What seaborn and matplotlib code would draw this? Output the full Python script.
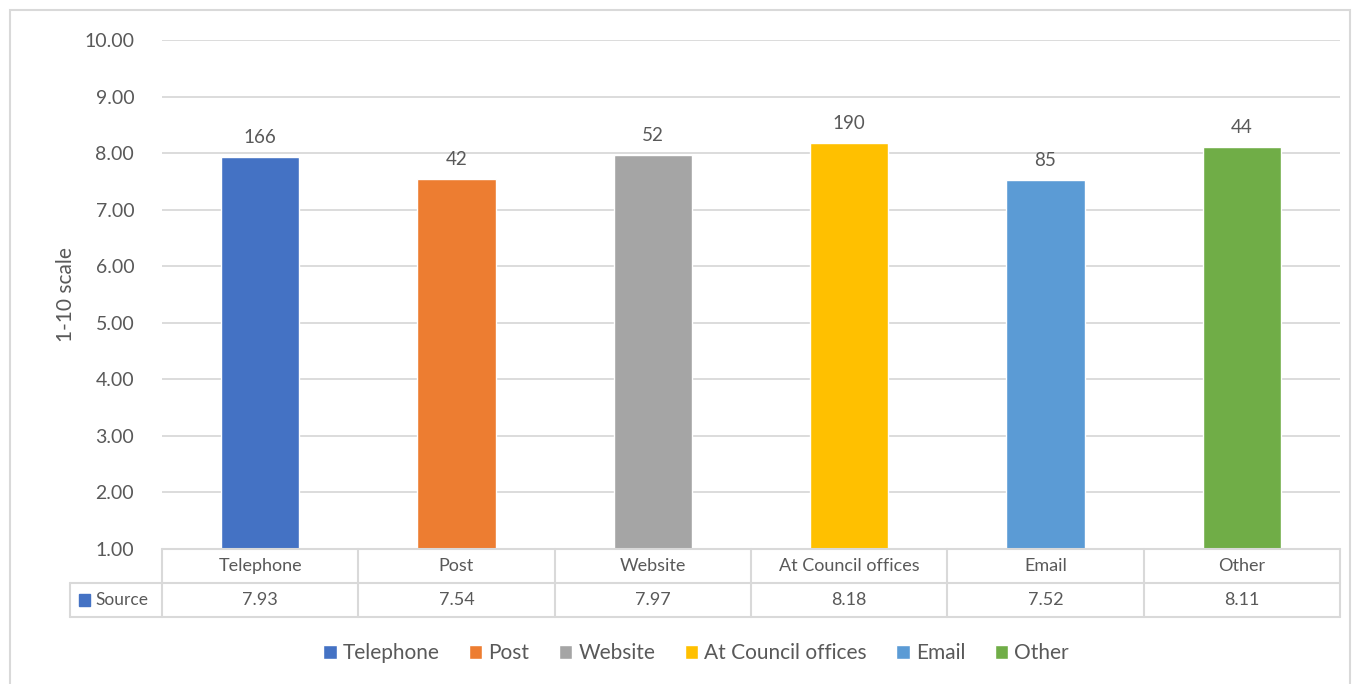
import matplotlib.pyplot as plt
import matplotlib.transforms as mtransforms
from matplotlib.patches import Rectangle
import seaborn as sns
import pandas as pd

# chart data
channels = ['Telephone', 'Post', 'Website', 'At Council offices', 'Email', 'Other']
scores = [7.93, 7.54, 7.97, 8.18, 7.52, 8.11]
counts = [166, 42, 52, 190, 85, 44]
colors = ['#4472C4', '#ED7D31', '#A5A5A5', '#FFC000', '#5B9BD5', '#70AD47']

sns.set_style('white')
plt.rcParams['font.family'] = ['Lato', 'DejaVu Sans']
txt = '#595959'
grid = '#D9D9D9'

df = pd.DataFrame({'channel': channels, 'score': scores})

fig = plt.figure(figsize=(13.6, 6.84), dpi=100)
ax = fig.add_axes([162/1360, 1 - 549/684, 1178/1360, 509/684])

sns.barplot(data=df, x='channel', y='score', hue='channel', palette=colors,
            width=0.4, dodge=False, legend=True, ax=ax, saturation=1)

# bars start at the 1.00 floor
for p in ax.patches:
    h = p.get_height()
    p.set_y(1)
    p.set_height(h - 1)

for cont, n in zip(ax.containers, counts):
    ax.bar_label(cont, labels=[str(n)], padding=8, fontsize=13.5, color=txt)

ax.set_ylim(1, 10)
ax.set_xlim(-0.5, 5.5)
ax.set_yticks(range(1, 11))
ax.set_yticklabels([f'{v:.2f}' for v in range(1, 11)], fontsize=14, color=txt)
ax.tick_params(axis='y', length=0, pad=20)
ax.set_xticks([])
ax.set_xlabel('')
ax.set_ylabel('1-10 scale', fontsize=15, color=txt, labelpad=6)
ax.yaxis.grid(True, color=grid, linewidth=1.3)
ax.set_axisbelow(True)
for s in ax.spines.values():
    s.set_visible(False)

# data table under the plot
trans = mtransforms.blended_transform_factory(ax.transData, ax.transAxes)
row = 34 / 509
left_cell = -0.5 - 92 / (1178 / 6)
lw = 1.5
ax.plot([-0.5, 5.5], [0, 0], color=grid, lw=lw, transform=trans, clip_on=False)
ax.plot([left_cell, 5.5], [-row, -row], color=grid, lw=lw, transform=trans, clip_on=False)
ax.plot([left_cell, 5.5], [-2 * row, -2 * row], color=grid, lw=lw, transform=trans, clip_on=False)
ax.plot([left_cell, left_cell], [-row, -2 * row], color=grid, lw=lw, transform=trans, clip_on=False)
for i in range(7):
    ax.plot([i - 0.5, i - 0.5], [0, -2 * row], color=grid, lw=lw, transform=trans, clip_on=False)
for i, (c, v) in enumerate(zip(channels, scores)):
    ax.text(i, -row / 2, c, ha='center', va='center', fontsize=13, color=txt, transform=trans)
    ax.text(i, -1.5 * row, f'{v:.2f}', ha='center', va='center', fontsize=13, color=txt, transform=trans)
ax.text(left_cell + 0.13, -1.5 * row, 'Source', ha='left', va='center', fontsize=12.5, color=txt, transform=trans)
ax.add_patch(Rectangle((left_cell + 0.045, -1.5 * row - 0.011), 0.055, 0.022, color=colors[0],
                       transform=trans, clip_on=False))

# legend at the bottom
handles, labels = ax.get_legend_handles_labels()
ax.legend_.remove()
fig.legend(handles, labels, loc='center', bbox_to_anchor=(696/1360, 1 - 653/684), ncol=6,
           frameon=False, fontsize=15, handlelength=0.65, handleheight=0.65,
           handletextpad=0.3, columnspacing=1.4, labelcolor=txt)

# outer chart border
fig.patches.append(Rectangle((10/1360, -0.01), 1340/1360, 1 - 10/684 + 0.01, fill=False,
                             edgecolor=grid, linewidth=1.5, transform=fig.transFigure))

fig.savefig('out.png', dpi=100)
